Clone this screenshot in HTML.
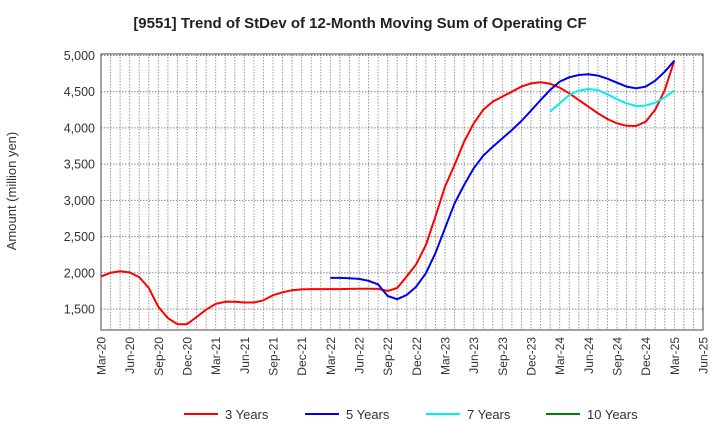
<!DOCTYPE html>
<html><head><meta charset="utf-8"><style>
body{margin:0;background:#fff;font-family:"Liberation Sans",sans-serif}
svg text{font-family:"Liberation Sans",sans-serif}
</style></head><body>
<svg id="c" width="720" height="440" xmlns="http://www.w3.org/2000/svg">
<text x="360" y="28" text-anchor="middle" font-size="15" font-weight="bold" fill="#222">[9551]  Trend of StDev of 12-Month Moving Sum of Operating CF</text>
<text transform="translate(16,191) rotate(-90)" text-anchor="middle" font-size="13" fill="#333">Amount (million yen)</text>
<g id="grid"></g>
<g id="yticks"></g>
<g id="xticks"></g>
<g id="series"></g>
<rect x="101" y="54" width="602" height="276" fill="none" stroke="#444" stroke-width="1"/>
<g id="legend"></g>
</svg>
<script>
const xLabels=["Mar-20","Jun-20","Sep-20","Dec-20","Mar-21","Jun-21","Sep-21","Dec-21","Mar-22","Jun-22","Sep-22","Dec-22","Mar-23","Jun-23","Sep-23","Dec-23","Mar-24","Jun-24","Sep-24","Dec-24","Mar-25","Jun-25"];
const yTicks=[1500,2000,2500,3000,3500,4000,4500,5000];
const red3=[1950,2000,2020,2005,1940,1790,1530,1375,1290,1290,1390,1490,1570,1600,1600,1590,1590,1620,1690,1730,1760,1770,1775,1775,1775,1775,1778,1780,1780,1778,1750,1790,1950,2120,2384,2775,3190,3490,3810,4063,4250,4363,4432,4500,4570,4615,4630,4610,4555,4478,4385,4294,4202,4123,4063,4030,4027,4086,4250,4524,4930];
const blue5Start=24;
const blue5=[1930,1930,1925,1915,1890,1840,1680,1635,1695,1810,1995,2270,2615,2960,3212,3442,3617,3741,3856,3971,4095,4238,4385,4524,4639,4699,4731,4740,4722,4680,4625,4570,4547,4570,4652,4777,4930];
const cyan7Start=47;
const cyan7=[4225,4340,4455,4515,4537,4524,4464,4395,4340,4303,4308,4349,4423,4515];
const X0=101,X1=703,months=63;
const x=m=>X0+(X1-X0)*m/months;
const y=v=>55.5+(5000-v)*0.07243;
const NS="http://www.w3.org/2000/svg";
function mk(t,a,p){const e=document.createElementNS(NS,t);for(const k in a)e.setAttribute(k,a[k]);p.appendChild(e);return e;}
const grid=document.getElementById('grid');
for(let m=1;m<months;m++){const l=mk('line',{x1:x(m),x2:x(m),y1:54,y2:330,stroke:'#999','stroke-width':1,'stroke-dasharray':'1.5,1.5'},grid);

}
const yt=document.getElementById('yticks');
yTicks.forEach(v=>{const l=mk('line',{x1:101,x2:703,y1:y(v),y2:y(v),stroke:'#888','stroke-width':1,'stroke-dasharray':'1.5,1.5'},grid);


const t=mk('text',{x:95,y:y(v)+4.5,'text-anchor':'end','font-size':12.5,fill:'#333'},yt);t.textContent=v.toLocaleString('en-US');

});
const xt=document.getElementById('xticks');
xLabels.forEach((s,i)=>{const xx=x(i*3);const t=mk('text',{transform:`translate(${xx+4.5},337) rotate(-90)`,'text-anchor':'end','font-size':12,fill:'#333'},xt);t.textContent=s;

});
const sg=document.getElementById('series');
function line(arr,start,col,name){const pts=arr.map((v,i)=>x(start+i).toFixed(1)+','+y(v).toFixed(1)).join(' ');
const p=mk('polyline',{points:pts,fill:'none',stroke:col,'stroke-width':2,'stroke-linejoin':'round'},sg);

}
line(red3,0,'#ff0000','line-3-years');
line(blue5,blue5Start,'#0000ee','line-5-years');
line(cyan7,cyan7Start,'#00eeee','line-7-years');
const lg=document.getElementById('legend');
[["3 Years","#ff0000",184],["5 Years","#0000ee",305],["7 Years","#00eeee",426],["10 Years","#008000",546]].forEach(([n,c,lx])=>{
const l=mk('line',{x1:lx,x2:lx+34,y1:414,y2:414,stroke:c,'stroke-width':2},lg);


const t=mk('text',{x:lx+41,y:419,'font-size':13,fill:'#333'},lg);t.textContent=n;

});
</script>
</body></html>
